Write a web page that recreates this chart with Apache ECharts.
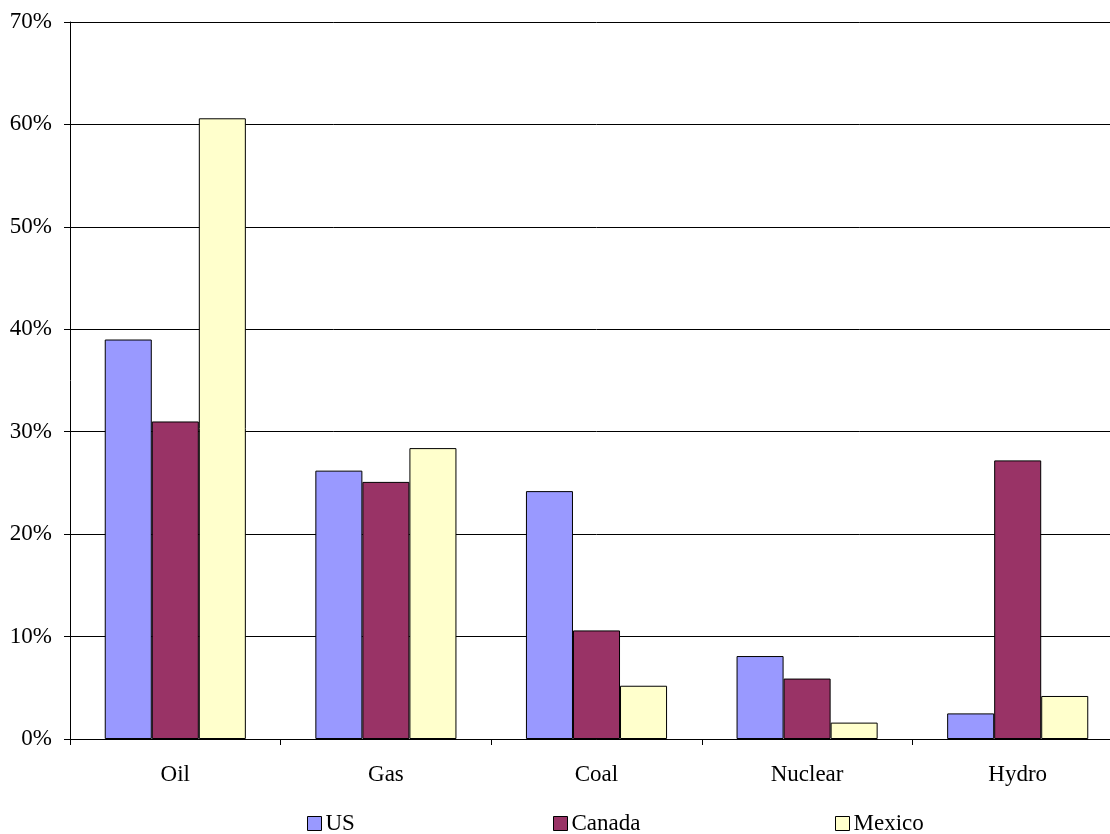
<!DOCTYPE html>
<html>
<head>
<meta charset="utf-8">
<script src="https://cdn.jsdelivr.net/npm/echarts@6/dist/echarts.min.js"></script>
<style>
  html, body { margin: 0; padding: 0; background: #fff; overflow: hidden; width: 1110px; height: 834px; }
  /* the plot runs slightly past the right edge of the page */
  #chart { width: 1123px; height: 834px; }
</style>
</head>
<body>
<div id="chart"></div>
<script>
// Energy sources, share of primary energy consumption (%)
const categories = ['Oil', 'Gas', 'Coal', 'Nuclear', 'Hydro'];
const usValues     = [39.0, 26.2, 24.2, 8.1, 2.5];
const canadaValues = [31.0, 25.1, 10.6, 5.9, 27.2];
const mexicoValues = [60.6, 28.4, 5.2, 1.6, 4.2];
const seriesNames = ['US', 'Canada', 'Mexico'];
const seriesColors = ['#9999FF', '#993366', '#FFFFCC'];
const yTicks = [0, 10, 20, 30, 40, 50, 60, 70];

const font = 'Liberation Serif, Times New Roman, serif';

const chart = echarts.init(document.getElementById('chart'), null, { renderer: 'canvas' });

function makeSeries(name, values, color) {
  return {
    name: name,
    type: 'bar',
    data: values,
    barGap: '0%',
    barCategoryGap: '33%',
    itemStyle: { color: color, borderColor: '#000', borderWidth: 1 },
    emphasis: { disabled: true },
    animation: false
  };
}

function legendAt(name, left) {
  return {
    data: [name],
    left: left,
    top: 812,
    itemWidth: 14,
    itemHeight: 14,
    itemGap: 6,
    icon: 'rect',
    padding: 0,
    itemStyle: { borderColor: '#000', borderWidth: 1 },
    textStyle: { fontFamily: font, fontSize: 23, color: '#000', padding: [0, 0, 0, -1] },
    selectedMode: false
  };
}

chart.setOption({
  backgroundColor: '#fff',
  animation: false,
  grid: { left: 70, top: 22, bottom: 95, right: 0, containLabel: false },
  legend: [
    legendAt(seriesNames[0], 307),
    legendAt(seriesNames[1], 553),
    legendAt(seriesNames[2], 835)
  ],
  xAxis: {
    type: 'category',
    data: categories,
    axisLine: { show: true, lineStyle: { color: '#000', width: 1 } },
    axisTick: { show: true, length: 6, lineStyle: { color: '#000' } },
    axisLabel: { fontFamily: font, fontSize: 23, color: '#000', margin: 24 },
    splitLine: { show: false }
  },
  yAxis: {
    type: 'value',
    min: yTicks[0],
    max: yTicks[yTicks.length - 1],
    interval: 10,
    axisLine: { show: true, lineStyle: { color: '#000', width: 1 } },
    axisTick: { show: true, length: 6, inside: false, lineStyle: { color: '#000' } },
    axisLabel: {
      fontFamily: font, fontSize: 23, color: '#000', margin: 18,
      formatter: v => v + '%'
    },
    splitLine: { show: true, lineStyle: { color: '#000', width: 1 } }
  },
  series: [
    makeSeries(seriesNames[0], usValues, seriesColors[0]),
    makeSeries(seriesNames[1], canadaValues, seriesColors[1]),
    makeSeries(seriesNames[2], mexicoValues, seriesColors[2])
  ]
});
</script>
</body>
</html>
